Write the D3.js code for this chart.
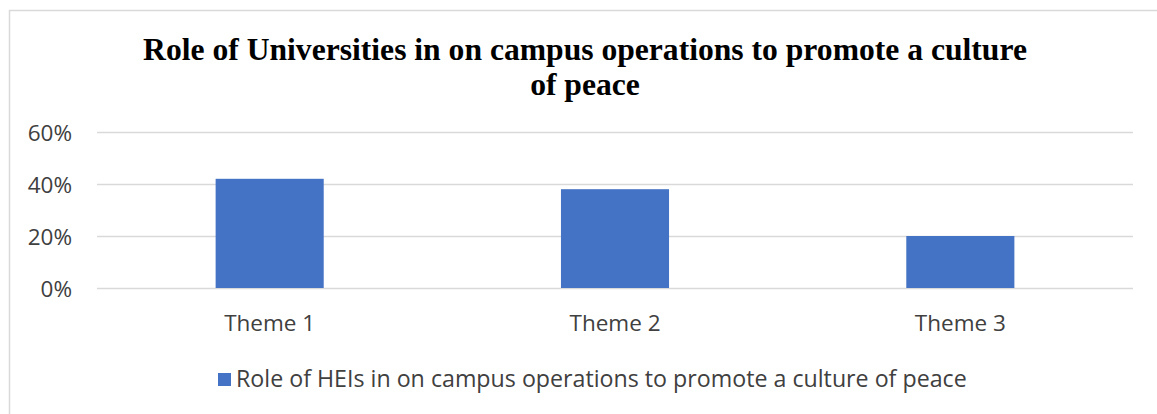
<!DOCTYPE html>
<html>
<head>
<meta charset="utf-8">
<script src="https://cdn.jsdelivr.net/npm/d3@7"></script>
<style>
  html, body { margin: 0; padding: 0; background: #fff; }
  svg { display: block; }
</style>
</head>
<body>
<svg id="chart" width="1157" height="414"></svg>
<script>
// Chart data
const categories = ["Theme 1", "Theme 2", "Theme 3"];
const values = [0.42, 0.38, 0.20];
const yTicks = [0, 0.2, 0.4, 0.6];
const titleLines = ["Role of Universities in on campus operations to promote a culture", "of peace"];
const seriesName = "Role of HEIs in on campus operations to promote a culture of peace";

const svg = d3.select("#chart");
const W = 1157, H = 414;
const margin = { left: 97, right: 24, top: 132, bottom: 126 };
const labelFont = "'Open Sans', 'Noto Sans', sans-serif";
const barColor = "#4472c4";

// Outer frame (left and top edges visible)
svg.append("path")
  .attr("d", `M9.5,${H} V10.5 H${W}`)
  .attr("fill", "none")
  .attr("stroke", "#d9d9d9")
  .attr("stroke-width", 1.5);

const x = d3.scaleBand()
  .domain(categories)
  .range([margin.left, W - margin.right])
  .paddingInner(0.687)
  .paddingOuter(0.3435);

const y = d3.scaleLinear()
  .domain([0, 0.6])
  .range([288, 132]);

// Shrinks or grows a text's font so it spans the given width
function fitWidth(sel, width) {
  sel.each(function () {
    const fs = parseFloat(this.getAttribute("font-size"));
    const len = this.getComputedTextLength();
    if (len > 0) this.setAttribute("font-size", (fs * width / len).toFixed(2));
  });
}

// Gridlines and y labels
const yAxis = d3.axisLeft(y)
  .tickValues(yTicks)
  .tickFormat(d3.format(".0%"))
  .tickSize(-(W - margin.right - margin.left))
  .tickPadding(25);

const gy = svg.append("g")
  .attr("transform", `translate(${margin.left},0)`)
  .call(yAxis);
gy.select(".domain").remove();
gy.selectAll(".tick line")
  .attr("stroke", "#d9d9d9")
  .attr("stroke-width", 1.5);
gy.selectAll(".tick text")
  .attr("font-family", labelFont)
  .attr("font-size", 22.5)
  .attr("fill", "#404040")
  .attr("dy", "0.36em");

// Bars
svg.append("g")
  .selectAll("rect")
  .data(values)
  .join("rect")
  .attr("x", (d, i) => x(categories[i]))
  .attr("width", x.bandwidth())
  .attr("y", d => y(d))
  .attr("height", d => y(0) - y(d))
  .attr("fill", barColor);

// Category labels
const gx = svg.append("g")
  .attr("transform", `translate(0,${y(0)})`)
  .call(d3.axisBottom(x).tickSize(0).tickPadding(27));
gx.select(".domain").remove();
gx.selectAll(".tick text")
  .attr("font-family", labelFont)
  .attr("font-size", 22.5)
  .attr("fill", "#404040");

// Title
svg.append("g")
  .selectAll("text")
  .data(titleLines)
  .join("text")
  .attr("x", 585)
  .attr("y", (d, i) => 60 + i * 35)
  .attr("text-anchor", "middle")
  .attr("font-family", "'Liberation Serif', 'DejaVu Serif', serif")
  .attr("font-weight", "bold")
  .attr("font-size", 27)
  .attr("fill", "#000")
  .text(d => d);
fitWidth(svg.selectAll("g text").filter(d => d === titleLines[0]), 884);
const tfs = svg.selectAll("g text").filter(d => d === titleLines[0]).attr("font-size");
svg.selectAll("g text").filter(d => d === titleLines[1]).attr("font-size", tfs);

// Legend
const lg = svg.append("g");
lg.append("rect")
  .attr("x", 218).attr("y", 373)
  .attr("width", 13).attr("height", 13)
  .attr("fill", barColor);
const lt = lg.append("text")
  .attr("x", 236).attr("y", 387)
  .attr("font-family", labelFont)
  .attr("font-size", 19)
  .attr("fill", "#404040")
  .text(seriesName);
fitWidth(lt, 731);
</script>
</body>
</html>
